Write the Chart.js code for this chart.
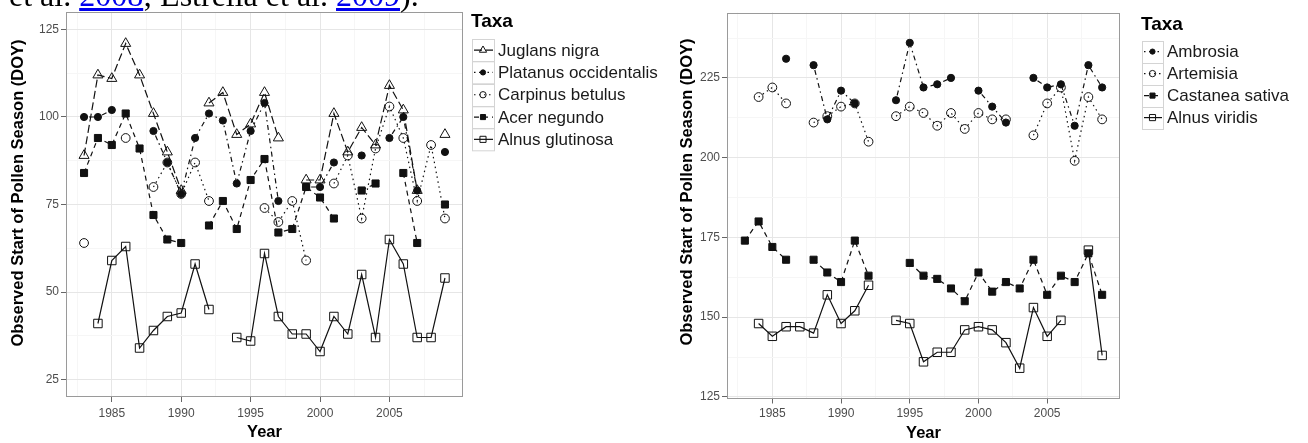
<!DOCTYPE html>
<html><head><meta charset="utf-8">
<script src="https://cdn.jsdelivr.net/npm/chart.js@4.4.0/dist/chart.umd.min.js"></script>
<style>
html,body{margin:0;padding:0;background:#fff;width:1308px;height:443px;overflow:hidden;position:relative;}
#c1{position:absolute;left:0;top:0;}
#c2{position:absolute;left:654px;top:0;}
#top{position:absolute;left:9px;top:-21.5px;font:32px/32px "Liberation Serif",serif;white-space:nowrap;color:#000;}
#top a{color:#0000ee;text-decoration:underline;}
</style></head><body>
<canvas id="c1" width="700" height="443"></canvas>
<canvas id="c2" width="654" height="443"></canvas>
<div id="top">et al. <a>2008</a>; Estrella et al. <a>2009</a>).</div>
<script>
// ---------------- data ----------------
const years = [1983,1984,1985,1986,1987,1988,1989,1990,1991,1992,1993,1994,1995,1996,1997,1998,1999,2000,2001,2002,2003,2004,2005,2006,2007,2008,2009];

const leftNames = ['Juglans nigra','Platanus occidentalis','Carpinus betulus','Acer negundo','Alnus glutinosa'];
const juglansNigra   = [89,112,111,121,112,101,90,79,null,104,107,95,98,107,94,null,82,82,101,90,97,92,109,102,79,null,95];
const platanusOcc    = [100,100,102,null,null,96,87,78,94,101,99,81,96,104,76,null,80,80,87,null,89,null,94,100,79,null,90];
const carpinusBet    = [64,null,null,94,null,80,87,78,87,76,null,null,null,74,70,76,59,null,81,89,71,91,103,94,76,92,71];
const acerNegundo    = [84,94,92,101,91,72,65,64,null,69,76,68,82,88,67,68,80,77,71,null,79,81,null,84,64,null,75];
const alnusGlutinosa = [null,41,59,63,34,39,43,44,58,45,null,37,36,61,43,38,38,33,43,38,55,37,65,58,37,37,54];

const rightNames = ['Ambrosia','Artemisia','Castanea sativa','Alnus viridis'];
const ambrosia       = [null,null,null,231,null,229,212,221,217,null,null,218,236,222,223,225,null,221,216,211,null,225,222,223,210,229,222];
const artemisia      = [null,219,222,217,null,211,213,216,217,205,null,213,216,214,210,214,209,214,212,212,null,207,217,222,199,219,212];
const castaneaSativa = [174,180,172,168,null,168,164,161,174,163,null,null,167,163,162,159,155,164,158,161,159,168,157,163,161,170,157];
const alnusViridis   = [null,148,144,147,147,145,157,148,152,160,null,149,148,136,139,139,146,147,146,142,134,153,144,149,null,171,138];

const xTickLabels = [1985,1990,1995,2000,2005];
const xMinorTicks = [1982.5,1987.5,1992.5,1997.5,2002.5,2007.5];
const leftYTicks  = [25,50,75,100,125];
const leftYMinor  = [37.5,62.5,87.5,112.5];
const rightYTicks = [125,150,175,200,225];
const rightYMinor = [137.5,162.5,187.5,212.5,237.5];

const legendTitle = 'Taxa';
const xTitle = 'Year';
const yTitle = 'Observed Start of Pollen Season (DOY)';

// ---------------- styles ----------------
const INK = '#111';
const styleSets = {
  longdash: [8,3.5],
  dotdash: [1.5,3.5,5,3.5],
  dotted: [1.5,3.5],
  dashed: [5,4],
  solid: []
};
const leftStyles = [
  {dash:'longdash', shape:'triangle', r:5.8, fill:false},
  {dash:'dotdash',  shape:'circle',   r:3.6, fill:true},
  {dash:'dotted',   shape:'circle',   r:4.4, fill:false},
  {dash:'dashed',   shape:'rect',     r:5.0, fill:true},
  {dash:'solid',    shape:'rect',     r:6.0, fill:false}
];
const rightStyles = [
  {dash:'dotdash', shape:'circle', r:3.6, fill:true},
  {dash:'dotted',  shape:'circle', r:4.4, fill:false},
  {dash:'dashed',  shape:'rect',   r:5.0, fill:true},
  {dash:'solid',   shape:'rect',   r:6.0, fill:false}
];

function toPoints(vals){ return years.map((y,i)=>({x:y, y:vals[i]})); }

function makeDatasets(names, seriesList, styles){
  return names.map((n,i)=>({
    label:n,
    data:toPoints(seriesList[i]),
    borderColor:INK,
    borderWidth:1.2,
    borderDash:styleSets[styles[i].dash],
    pointStyle:styles[i].shape,
    pointRadius:styles[i].r,
    pointHoverRadius:styles[i].r,
    pointBorderWidth:1,
    pointBorderColor:INK,
    pointBackgroundColor: styles[i].fill ? INK : 'rgba(0,0,0,0)',
    fill:false,
    tension:0,
    spanGaps:false,
    _st:styles[i]
  }));
}

function drawMarker(ctx, shape, r, x, y, fill){
  ctx.beginPath();
  if (shape==='circle'){ ctx.arc(x,y,r,0,Math.PI*2); }
  else if (shape==='rect'){ const s=r*Math.SQRT1_2; ctx.rect(x-s,y-s,2*s,2*s); }
  else if (shape==='triangle'){
    let a=0; ctx.moveTo(x+Math.sin(a)*r, y-Math.cos(a)*r);
    a+=2*Math.PI/3; ctx.lineTo(x+Math.sin(a)*r, y-Math.cos(a)*r);
    a+=2*Math.PI/3; ctx.lineTo(x+Math.sin(a)*r, y-Math.cos(a)*r);
  }
  ctx.closePath();
  ctx.setLineDash([]);
  if (fill){ ctx.fillStyle=INK; ctx.fill(); }
  ctx.strokeStyle=INK; ctx.lineWidth=1; ctx.stroke();
}

const decor = {
  id:'decor',
  afterDraw(chart, args, o){
    const ctx=chart.ctx, a=chart.chartArea;
    ctx.save();
    // panel border
    ctx.setLineDash([]);
    ctx.strokeStyle='#9a9a9a'; ctx.lineWidth=1;
    ctx.strokeRect(Math.round(a.left)+0.5, Math.round(a.top)+0.5, Math.round(a.right)-Math.round(a.left)-1, Math.round(a.bottom)-Math.round(a.top)-1);
    // axis titles
    ctx.fillStyle='#000';
    ctx.font='bold 16.5px "Liberation Sans", Arial, sans-serif';
    ctx.textAlign='center'; ctx.textBaseline='middle';
    ctx.fillText(xTitle, (a.left+a.right)/2, o.xTitleY);
    ctx.save();
    ctx.translate(o.yTitleX, o.yTitleY); ctx.rotate(-Math.PI/2);
    ctx.fillText(yTitle, 0, 0);
    ctx.restore();
    // legend
    ctx.textAlign='left';
    ctx.font='bold 19px "Liberation Sans", Arial, sans-serif';
    ctx.fillText(legendTitle, o.lx-1, o.titleY);
    ctx.font='17px "Liberation Sans", Arial, sans-serif';
    chart.data.datasets.forEach((ds,i)=>{
      const top=o.ly+i*o.rowH, cy=top+o.rowH/2, cx=o.lx+o.boxW/2;
      ctx.setLineDash([]);
      ctx.strokeStyle='#d4d4d4'; ctx.lineWidth=1;
      ctx.strokeRect(Math.round(o.lx)+0.5, Math.round(top)+0.5, o.boxW, o.rowH);
      ctx.strokeStyle=INK; ctx.lineWidth=1.2;
      ctx.setLineDash(ds.borderDash);
      ctx.beginPath(); ctx.moveTo(o.lx+2, cy); ctx.lineTo(o.lx+o.boxW-1, cy); ctx.stroke();
      drawMarker(ctx, ds._st.shape, ds._st.r*0.72, cx, cy, ds._st.fill);
      ctx.fillStyle='#1a1a1a';
      ctx.textBaseline='middle';
      ctx.fillText(ds.label, o.lx+o.boxW+4, cy+1);
    });
    ctx.restore();
  }
};

function makeScales(yMin,yMax,yMajor,yMinor,yWidth,xHeight,xPad){
  const mk = (maj,min)=> maj.map(v=>({value:v})).concat(min.map(v=>({value:v,minor:true}))).sort((p,q)=>p.value-q.value);
  const gridColor = c => (c.tick && c.tick.minor) ? '#f6f6f6' : '#e6e6e6';
  const tickColor = c => (c.tick && c.tick.minor) ? 'rgba(0,0,0,0)' : '#666';
  const lbl = (v,i,t) => (t[i] && t[i].minor) ? '' : String(v);
  const tfont = {family:'"Liberation Sans", Arial, sans-serif', size:12};
  return {
    x:{type:'linear', min:1981.7, max:2010.3,
       afterBuildTicks:s=>{ s.ticks = mk(xTickLabels, xMinorTicks); },
       afterFit:s=>{ s.height = xHeight; },
       border:{display:false},
       grid:{color:gridColor, tickColor:tickColor, tickLength:5, lineWidth:1, drawTicks:true},
       ticks:{autoSkip:false, maxRotation:0, padding:xPad, color:'#4d4d4d', font:tfont, callback:lbl},
       title:{display:false}},
    y:{type:'linear', min:yMin, max:yMax,
       afterBuildTicks:s=>{ s.ticks = mk(yMajor, yMinor); },
       afterFit:s=>{ s.width = yWidth; },
       border:{display:false},
       grid:{color:gridColor, tickColor:tickColor, tickLength:5, lineWidth:1, drawTicks:true},
       ticks:{autoSkip:false, padding:2, color:'#4d4d4d', font:tfont, callback:lbl},
       title:{display:false}}
  };
}

const common = {
  responsive:false, animation:false,
  events:[]
};

new Chart(document.getElementById('c1'), {
  type:'line',
  data:{datasets:makeDatasets(leftNames,[juglansNigra,platanusOcc,carpinusBet,acerNegundo,alnusGlutinosa],leftStyles)},
  options:Object.assign({}, common, {
    layout:{padding:{left:0,right:237,top:12,bottom:0}},
    scales:makeScales(20,130,leftYTicks,leftYMinor,66,46,4),
    plugins:{legend:{display:false}, tooltip:{enabled:false},
      decor:{xTitleY:432, yTitleX:18, yTitleY:193, lx:472, ly:39, rowH:22.3, boxW:22, titleY:22}}
  }),
  plugins:[decor]
});

new Chart(document.getElementById('c2'), {
  type:'line',
  data:{datasets:makeDatasets(rightNames,[ambrosia,artemisia,castaneaSativa,alnusViridis],rightStyles)},
  options:Object.assign({}, common, {
    layout:{padding:{left:0,right:188,top:12.5,bottom:0}},
    scales:makeScales(124.5,245.5,rightYTicks,rightYMinor,73,44.5,3),
    plugins:{legend:{display:false}, tooltip:{enabled:false},
      decor:{xTitleY:433, yTitleX:33, yTitleY:192, lx:1142-654, ly:40.6, rowH:22, boxW:21, titleY:25}}
  }),
  plugins:[decor]
});
</script>
</body></html>
